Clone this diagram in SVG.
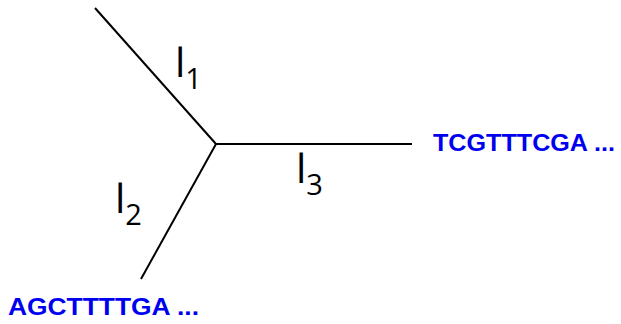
<svg xmlns="http://www.w3.org/2000/svg" width="621" height="324" viewBox="0 0 621 324">
<style>
.edge{stroke:#000;stroke-width:2;fill:none;stroke-linecap:butt}
.lbl{font-family:"Open Sans","Liberation Sans",sans-serif;fill:#000}
.seq{font-family:"Liberation Sans",Arial,sans-serif;font-weight:bold;font-size:24px;fill:#0000F0}
</style>
<rect width="621" height="324" fill="#fff"/>
<g id="connectors">
<line class="edge" x1="216" y1="144" x2="95" y2="8"/>
<line class="edge" x1="216" y1="144" x2="141" y2="279"/>
<line class="edge" x1="216" y1="144" x2="412" y2="144"/>
</g>
<g id="label-l1"><text class="lbl" x="175" y="77" font-size="41">l<tspan font-size="29" dy="12">1</tspan></text></g>
<g id="label-l2"><text class="lbl" x="115" y="213" font-size="41">l<tspan font-size="29" dy="12">2</tspan></text></g>
<g id="label-l3"><text class="lbl" x="296" y="183" font-size="41">l<tspan font-size="29" dy="12">3</tspan></text></g>
<g id="seq-right"><text class="seq" x="433" y="151" textLength="182" lengthAdjust="spacingAndGlyphs">TCGTTTCGA ...</text></g>
<g id="seq-left"><text class="seq" x="8" y="315" textLength="191" lengthAdjust="spacingAndGlyphs">AGCTTTTGA ...</text></g>
</svg>
